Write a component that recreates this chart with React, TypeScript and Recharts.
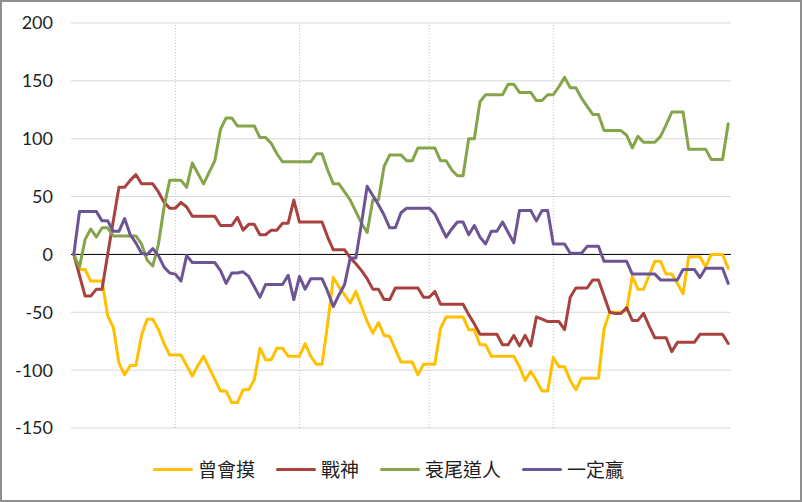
import React from 'react';
import {
  LineChart,
  Line,
  XAxis,
  YAxis,
  CartesianGrid,
  ReferenceLine,
} from 'recharts';

// trading days (index) and the days where a new month starts
const days: number[] = Array.from({ length: 117 }, (_, i) => i);
const monthStarts = [18, 40, 63, 85];
const yTicks = [-150, -100, -50, 0, 50, 100, 150, 200];

const seriesNames = ['曾會摸', '戰神', '衰尾道人', '一定贏'];
const seriesColors = ['#FFC000', '#A8423F', '#86A44A', '#6D5494'];

const zengHuiMo = [
  0, -13, -13, -23, -23, -23, -53, -63, -94, -104,
  -96, -96, -70, -56, -56, -65, -77, -87, -87, -87,
  -96, -105, -96, -88, -98, -108, -118, -118, -128, -128,
  -117, -117, -108, -81, -91, -91, -81, -81, -88, -88,
  -88, -77, -88, -95, -95, -60, -20, -28, -35, -42,
  -32, -45, -58, -68, -59, -70, -71, -82, -93, -93,
  -93, -104, -95, -95, -95, -64, -54, -54, -54, -54,
  -65, -65, -78, -78, -88, -88, -88, -88, -88, -97,
  -109, -101, -109, -118, -118, -89, -97, -97, -109, -117,
  -107, -107, -107, -107, -64, -50, -50, -50, -48, -19,
  -30, -30, -18, -6, -6, -17, -17, -25, -34, -2,
  -2, -2, -11, 0, 0, 0, -12,
];

const zhanShen = [
  0, -18, -36, -36, -30, -30, 0, 29, 58, 58,
  64, 69, 61, 61, 61, 54, 45, 40, 40, 45,
  41, 33, 33, 33, 33, 33, 25, 25, 25, 32,
  21, 26, 26, 17, 17, 21, 21, 27, 27, 47,
  28, 28, 28, 28, 28, 15, 4, 4, 4, -3,
  -8, -14, -21, -30, -30, -39, -39, -29, -29, -29,
  -29, -29, -37, -37, -32, -43, -43, -43, -43, -43,
  -52, -60, -69, -69, -69, -69, -78, -78, -70, -79,
  -70, -79, -54, -56, -58, -58, -58, -65, -37, -29,
  -29, -29, -22, -22, -36, -50, -51, -51, -46, -57,
  -57, -51, -62, -72, -72, -72, -84, -76, -76, -76,
  -76, -69, -69, -69, -69, -69, -77,
];

const shuaiWei = [
  0, -11, 13, 22, 15, 23, 23, 16, 16, 16,
  16, 16, 9, -5, -10, 9, 41, 64, 64, 64,
  58, 79, 70, 61, 71, 81, 108, 118, 118, 111,
  111, 111, 111, 101, 101, 96, 87, 80, 80, 80,
  80, 80, 80, 87, 87, 73, 61, 61, 54, 47,
  37, 27, 19, 47, 47, 76, 86, 86, 86, 81,
  81, 92, 92, 92, 92, 81, 81, 73, 68, 68,
  100, 100, 132, 138, 138, 138, 138, 147, 147, 140,
  140, 140, 133, 133, 138, 138, 145, 153, 144, 144,
  135, 128, 121, 121, 107, 107, 107, 107, 103, 92,
  102, 97, 97, 97, 102, 112, 123, 123, 123, 91,
  91, 91, 91, 82, 82, 82, 113,
];

const yiDingYing = [
  0, 37, 37, 37, 37, 29, 29, 20, 20, 31,
  17, 10, 1, 0, 5, -1, -11, -16, -17, -23,
  -1, -7, -7, -7, -7, -7, -14, -25, -16, -16,
  -15, -19, -28, -37, -26, -26, -26, -26, -18, -39,
  -19, -30, -21, -21, -21, -32, -45, -35, -26, -3,
  -3, 27, 59, 51, 43, 34, 23, 23, 36, 40,
  40, 40, 40, 40, 35, 25, 15, 22, 28, 28,
  17, 25, 15, 9, 20, 20, 28, 19, 10, 38,
  38, 38, 29, 38, 38, 9, 9, 9, 1, 1,
  1, 7, 7, 7, -6, -6, -6, -6, -6, -17,
  -17, -17, -17, -17, -22, -22, -22, -22, -13, -13,
  -13, -20, -12, -12, -12, -12, -25,
];

const seriesValues = [zengHuiMo, zhanShen, shuaiWei, yiDingYing];

const data = days.map((d, k) => {
  const row: Record<string, number> = { day: d };
  seriesNames.forEach((name, s) => {
    row[name] = seriesValues[s][k];
  });
  return row;
});

const tickStyle = { fontFamily: 'Lato, "Noto Sans", sans-serif', fontSize: 18, fill: '#1f1f1f' };

const ChartLegend = () => (
  <div
    style={{
      position: 'absolute',
      left: 153,
      top: 456,
      display: 'flex',
      alignItems: 'center',
      fontFamily: '"Noto Sans CJK TC", sans-serif',
      fontSize: 19,
      color: '#1f1f1f',
      whiteSpace: 'nowrap',
      lineHeight: '26px',
    }}
  >
    {seriesNames.map((name, idx) => (
      <div
        key={name}
        style={{ display: 'flex', alignItems: 'center', marginRight: idx < seriesNames.length - 1 ? 21 : 0 }}
      >
        <span
          style={{
            display: 'inline-block',
            width: 40,
            height: 3,
            background: seriesColors[idx],
            borderRadius: 2,
            marginRight: 5,
          }}
        />
        <span>{name}</span>
      </div>
    ))}
  </div>
);

export default function App() {
  return (
    <>
      <style>{'body{margin:0;background:#fff;}'}</style>
      <div
        style={{
          position: 'relative',
          width: 802,
          height: 502,
          boxSizing: 'border-box',
          border: '2px solid #8f8f8f',
          background: '#fff',
          overflow: 'hidden',
        }}
      >
        <div style={{ position: 'absolute', left: -2, top: -2 }}>
          <LineChart
            width={802}
            height={502}
            data={data}
            margin={{ top: 23, right: 0, left: 0, bottom: 74 }}
          >
            <CartesianGrid yAxisId="left" vertical={false} stroke="#d9d9d9" strokeWidth={1} />
            <XAxis
              dataKey="day"
              type="number"
              domain={[-0.5, days.length - 0.5]}
              ticks={monthStarts}
              hide
            />
            <YAxis
              yAxisId="left"
              domain={[-150, 200]}
              ticks={yTicks}
              width={71}
              axisLine={false}
              tickLine={false}
              tickMargin={12}
              tick={tickStyle}
            />
            <YAxis
              yAxisId="right"
              orientation="right"
              domain={[-150, 200]}
              ticks={yTicks}
              width={71}
              axisLine={false}
              tickLine={false}
              tickMargin={13}
              tick={{ ...tickStyle, textAnchor: 'start' }}
            />
            {monthStarts.map((m) => (
              <ReferenceLine
                key={m}
                yAxisId="left"
                x={m}
                stroke="#c0c0c0"
                strokeDasharray="1 2"
                strokeWidth={1}
              />
            ))}
            <ReferenceLine yAxisId="left" y={0} stroke="#000" strokeWidth={1} />
            {seriesNames.map((name, idx) => (
              <Line
                key={name}
                yAxisId="left"
                type="linear"
                dataKey={name}
                stroke={seriesColors[idx]}
                strokeWidth={3}
                strokeLinejoin="round"
                strokeLinecap="round"
                dot={false}
                activeDot={false}
                isAnimationActive={false}
              />
            ))}
          </LineChart>
        </div>
        <div style={{ position: 'absolute', left: -2, top: -2 }}>
          <ChartLegend />
        </div>
      </div>
    </>
  );
}
